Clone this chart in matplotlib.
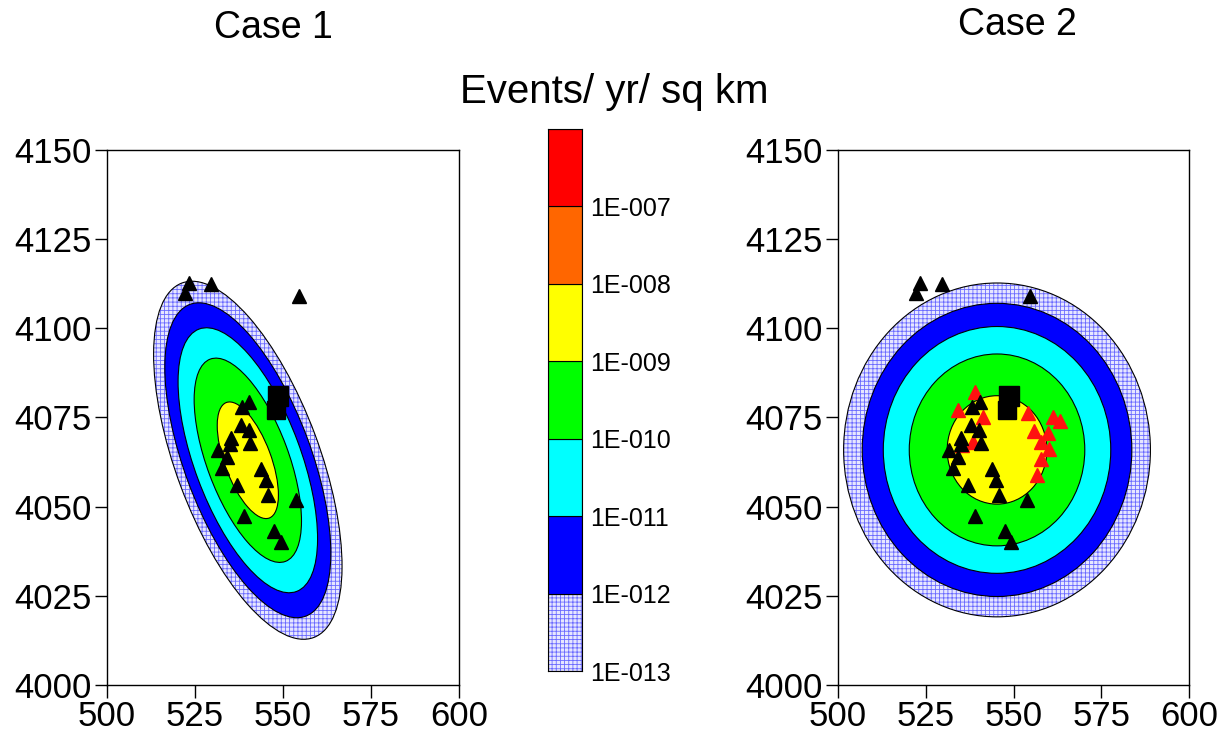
import matplotlib
matplotlib.use('Agg')
import matplotlib.pyplot as plt
import matplotlib.patches as mpatches

plt.rcParams['font.family'] = ['Liberation Sans', 'DejaVu Sans']
plt.rcParams['hatch.linewidth'] = 0.6

# colour bands of the scale, from bottom (lowest rate) to top
bar_colors = ['#e6e6ff', '#0000ff', '#00ffff', '#00ff00', '#ffff00',
              '#ff6600', '#ff0000']
bar_labels = ['1E-013', '1E-012', '1E-011', '1E-010', '1E-009',
              '1E-008', '1E-007']
hatch_color = '#6a6aff'

# contours are nested ellipses, outer band first (km)
case1_center = (540.0, 4063.0)
case1_angle = 110.7
case1_major = [53.1, 46.7, 39.3, 30.3, 17.3]
case1_minor = [20.4, 18.0, 15.1, 11.6, 6.6]

case2_center = (545.3, 4065.9)
case2_angle = 0.0
case2_major = [43.7, 38.4, 32.4, 25.0, 14.2]
case2_minor = [46.8, 41.1, 34.6, 26.9, 15.2]

# observed events (black), same in both cases
event_x = [523.3, 522.2, 529.5, 554.6, 540.4, 538.3, 538.0, 540.2, 535.1,
           534.9, 540.6, 531.6, 534.2, 532.7, 543.8, 545.1, 537.0, 545.8,
           553.7, 539.0, 547.5, 549.3]
event_y = [4112.6, 4110.0, 4112.4, 4109.1, 4079.3, 4077.8, 4072.9, 4071.6,
           4069.3, 4067.6, 4067.9, 4066.0, 4063.8, 4060.8, 4060.5, 4057.5,
           4056.1, 4053.3, 4051.9, 4047.4, 4043.3, 4040.2]

# extra events of case 2 (red)
red_x = [539.0, 534.1, 541.2, 554.0, 561.3, 563.1, 555.9, 559.9, 557.7,
         560.1, 557.7, 556.6, 538.5, 535.2]
red_y = [4082.2, 4077.1, 4075.2, 4076.2, 4075.2, 4074.1, 4071.2, 4070.7,
         4068.2, 4066.2, 4063.4, 4058.9, 4068.2, 4067.3]

# site
site_x = [548.6, 548.1]
site_y = [4081.0, 4077.0]

x_ticks = [500, 525, 550, 575, 600]
y_ticks = [4000, 4025, 4050, 4075, 4100, 4125, 4150]


def draw_case(ax, center, angle, major, minor, red=False):
    # bands from outside to inside, the outer one is hatched
    for i in range(len(major)):
        color = bar_colors[i]
        if i == 0:
            fill = mpatches.Ellipse(center, 2 * major[i], 2 * minor[i],
                                    angle=angle, fc=color, ec=hatch_color,
                                    lw=0, hatch='++++', zorder=1)
        else:
            fill = mpatches.Ellipse(center, 2 * major[i], 2 * minor[i],
                                    angle=angle, fc=color, lw=0, zorder=1)
        ax.add_patch(fill)
        edge = mpatches.Ellipse(center, 2 * major[i], 2 * minor[i],
                                angle=angle, fill=False, ec='black',
                                lw=0.8, zorder=2)
        ax.add_patch(edge)
    if red:
        ax.plot(red_x, red_y, '^', color='#ff1010', ms=10.5, zorder=3,
                clip_on=False)
    ax.plot(event_x, event_y, '^', color='black', ms=10.5, zorder=4,
            clip_on=False)
    ax.plot(site_x[:1], site_y[:1], 's', color='black', ms=15, zorder=5)
    ax.plot(site_x[1:], site_y[1:], 's', color='black', ms=12.5, zorder=5)

    ax.set_xlim(500, 600)
    ax.set_ylim(4000, 4150)
    ax.set_xticks(x_ticks)
    ax.set_yticks(y_ticks)
    ax.tick_params(direction='out', length=9, width=1, labelsize=25,
                   pad=2)
    for s in ax.spines.values():
        s.set_linewidth(1)


fig = plt.figure(figsize=(12.3, 7.34), dpi=100)

ax1 = fig.add_axes([0.087, 0.0668, 0.2862, 0.7289])
draw_case(ax1, case1_center, case1_angle, case1_major, case1_minor)

ax2 = fig.add_axes([0.6813, 0.0668, 0.2854, 0.7289])
draw_case(ax2, case2_center, case2_angle, case2_major, case2_minor,
          red=True)

# colour scale
cax = fig.add_axes([0.4455, 0.0858, 0.0276, 0.7384])
for i in range(len(bar_colors)):
    if i == 0:
        cax.bar(0, 1, bottom=i, width=1, color=bar_colors[i],
                ec=hatch_color, lw=0, hatch='++++')
    else:
        cax.bar(0, 1, bottom=i, width=1, color=bar_colors[i], lw=0)
    cax.bar(0, 1, bottom=i, width=1, fill=False, ec='black', lw=0.8)
cax.set_xlim(-0.5, 0.5)
cax.set_ylim(0, len(bar_colors))
cax.set_xticks([])
cax.set_yticks(range(len(bar_labels)))
cax.set_yticklabels(bar_labels)
cax.yaxis.tick_right()
cax.tick_params(axis='y', length=0, labelsize=18, pad=6)
for s in cax.spines.values():
    s.set_linewidth(0.8)

fig.text(0.222, 0.962, 'Case 1', ha='center', va='center', fontsize=27)
fig.text(0.827, 0.966, 'Case 2', ha='center', va='center', fontsize=27)
fig.text(0.499, 0.875, 'Events/ yr/ sq km', ha='center', va='center',
         fontsize=29)

plt.savefig('out.png', dpi=100)
